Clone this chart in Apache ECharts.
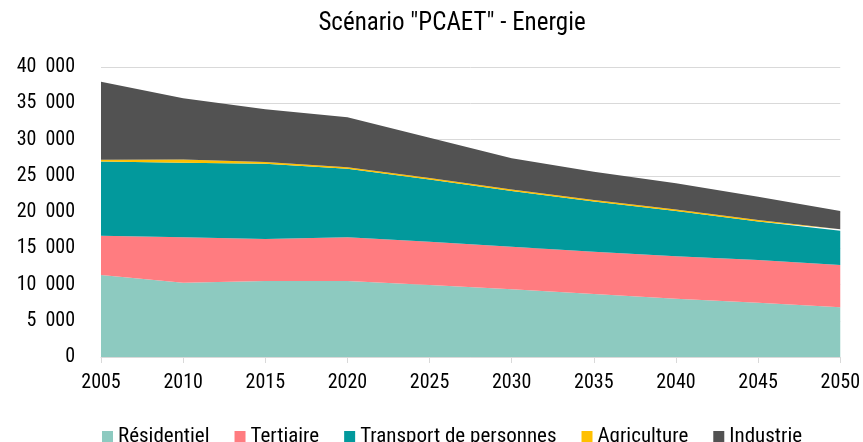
<!DOCTYPE html>
<html><head><meta charset="utf-8">
<script src="https://cdn.jsdelivr.net/npm/echarts@6/dist/echarts.min.js"></script>
<style>html,body{margin:0;padding:0;background:#fff}#c{width:863px;height:442px}</style>
</head><body><div id="c"></div>
<script>
const years = ['2005','2010','2015','2020','2025','2030','2035','2040','2045','2050'];
const residentiel = [11310, 10250, 10480, 10480, 9930, 9330, 8690, 8050, 7490, 6850];
const tertiaire   = [5400, 6260, 5800, 6030, 5970, 5880, 5840, 5830, 5890, 5840];
const transport   = [10240, 10290, 10380, 9440, 8580, 7690, 6920, 6270, 5320, 4730];
const agriculture = [250, 450, 250, 230, 200, 200, 200, 200, 200, 190];
const industrie   = [10770, 8430, 7250, 6880, 5570, 4300, 3910, 3600, 3210, 2530];

const FONT = '"Roboto Condensed", "Liberation Sans Narrow", "Roboto", sans-serif';
const names = ['Résidentiel','Tertiaire','Transport de personnes','Agriculture','Industrie'];
const colors = ['#8DCAC0','#FF7C80','#02999C','#FFC000','#525252'];
const datas = [residentiel, tertiaire, transport, agriculture, industrie];

const chart = echarts.init(document.getElementById('c'), null, {renderer:'canvas'});
chart.setOption({
  animation: false,
  backgroundColor: '#fff',
  title: {text: 'Scénario "PCAET" - Energie', left: 447, textAlign: 'center', top: 6,
    textStyle: {fontFamily: FONT, fontSize: 25, fontWeight: 'normal', color: '#000'}},
  color: colors,
  legend: {top: 421, left: 97, itemWidth: 11, itemHeight: 11, itemGap: 25, icon: 'rect',
    textStyle: {fontFamily: FONT, fontSize: 21, color: '#000', padding: [0,0,0,0]},
    data: names},
  grid: {left: 101, right: 20, top: 67, bottom: 85},
  xAxis: {type: 'category', data: years, boundaryGap: false,
    axisLine: {lineStyle: {color: '#d9d9d9', width: 1}},
    axisTick: {show: true, length: 6, lineStyle: {color: '#d9d9d9'}},
    axisLabel: {fontFamily: FONT, fontSize: 20, color: '#000', margin: 16}},
  yAxis: {type: 'value', min: 0, max: 40000, interval: 5000,
    axisLine: {show: false}, axisTick: {show: false},
    splitLine: {lineStyle: {color: '#d9d9d9', width: 1}},
    axisLabel: {fontFamily: FONT, fontSize: 20, color: '#000', margin: 26,
      formatter: v => v === 0 ? '0' : String(v).replace(/\B(?=(\d{3})+(?!\d))/g, '\u2002')}},
  series: datas.map((d, i) => ({
    name: names[i], type: 'line', stack: 'total', data: d, symbol: 'none',
    lineStyle: {width: 0}, areaStyle: {color: colors[i], opacity: 1}
  }))
});
</script></body></html>
